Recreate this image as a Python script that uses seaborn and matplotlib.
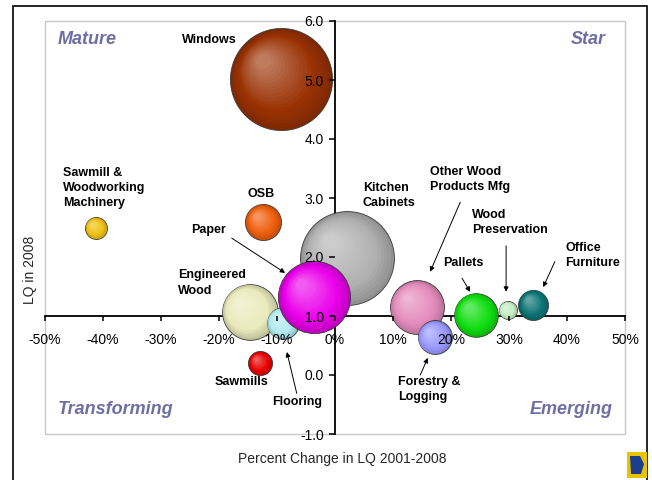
import numpy as np
import pandas as pd
import matplotlib.pyplot as plt
import seaborn as sns
from matplotlib.colors import to_rgb
from matplotlib.patches import Rectangle, Polygon
from matplotlib.transforms import ScaledTranslation

# datos (orden = orden de dibujo)
industries = ["Windows", "Kitchen Cabinets", "Engineered Wood", "Flooring", "Paper", "OSB",
              "Sawmill & Woodworking Machinery", "Sawmills", "Other Wood Products Mfg",
              "Forestry & Logging", "Pallets", "Wood Preservation", "Office Furniture"]
pct_change = [-9.3, 2.1, -14.7, -9.0, -3.6, -12.4, -41.2, -12.9, 14.1, 17.2, 24.3, 29.8, 34.2]
lq_2008 = [5.02, 1.98, 1.07, 0.88, 1.32, 2.59, 2.49, 0.20, 1.15, 0.64, 1.02, 1.10, 1.19]
employment = [10400, 8800, 3100, 1000, 5200, 1300, 480, 580, 2900, 1150, 1900, 320, 900]
colors = ["#9a3204", "#b0b0b0", "#eaeabc", "#b0eaf0", "#ea00ea", "#ee5e0c", "#eec010",
          "#e80000", "#e48cbc", "#9a9aff", "#10de10", "#c4eec4", "#0c7474"]

x_ticks = [-50, -40, -30, -20, -10, 0, 10, 20, 30, 40, 50]
y_ticks = [-1, 0, 1, 2, 3, 4, 5, 6]

# etiquetas: (texto, posicion, alineacion)
labels = [
    ("Windows", (-21.6, 5.68), "center"),
    ("Sawmill &\nWoodworking\nMachinery", (-46.9, 3.17), "left"),
    ("OSB", (-12.8, 3.07), "center"),
    ("Kitchen\nCabinets", (4.8, 3.04), "left"),
    ("Other Wood\nProducts Mfg", (16.4, 3.32), "left"),
    ("Wood\nPreservation", (23.6, 2.58), "left"),
    ("Office\nFurniture", (39.7, 2.02), "left"),
    ("Pallets", (18.6, 1.90), "left"),
    ("Paper", (-24.8, 2.46), "left"),
    ("Engineered\nWood", (-27.1, 1.56), "left"),
    ("Sawmills", (-16.2, -0.12), "center"),
    ("Flooring", (-6.6, -0.46), "center"),
    ("Forestry &\nLogging", (10.9, -0.25), "left"),
]
# flechas: (desde, hasta)
arrows = [
    ((-17.8, 2.32), (-8.6, 1.73)),
    ((-6.6, -0.31), (-8.3, 0.39)),
    ((21.6, 2.93), (16.4, 1.75)),
    ((21.9, 1.64), (23.3, 1.41)),
    ((29.5, 2.19), (29.5, 1.41)),
    ((37.9, 1.92), (35.9, 1.49)),
    ((14.7, 0.0), (16.0, 0.29)),
]
quadrants = [("Mature", (-47.8, 5.68), "left"), ("Star", (46.7, 5.68), "right"),
             ("Transforming", (-47.8, -0.59), "left"), ("Emerging", (47.8, -0.59), "right")]

df = pd.DataFrame({"Industry": industries, "Change": pct_change,
                   "LQ": lq_2008, "Employment": employment})

sns.set_theme(style="white")
plt.rcParams["font.family"] = ["Liberation Sans", "DejaVu Sans"]

SMAX = 5400
EMAX = max(employment)

fig = plt.figure(figsize=(6.52, 4.8), dpi=100)
ax = fig.add_axes([45 / 652, 1 - 434 / 480, 580 / 652, 413 / 480])


def mix(c, t):
    c = np.array(to_rgb(c))
    if t >= 0:
        return tuple(c + (1 - c) * t)
    return tuple(c * (1 + t))


n_layers = 18
for i, row in df.iterrows():
    base = colors[i]
    z = 1 + i
    sns.scatterplot(data=df.iloc[[i]], x="Change", y="LQ", size="Employment",
                    sizes=(0, SMAX), size_norm=(0, EMAX), color=mix(base, -0.18),
                    edgecolor="#3a3a3a", linewidth=0.6, legend=False, ax=ax, zorder=z)
    # sombreado tipo burbuja 3D
    s = SMAX * row["Employment"] / EMAX
    r_pt = np.sqrt(s) / 2
    for k in range(1, n_layers):
        t = 1 - k / n_layers * 0.9
        off = (1 - t) * 0.42 * r_pt / 72
        tr = ax.transData + ScaledTranslation(-off, off, fig.dpi_scale_trans)
        amt = -0.18 + (1 - t) ** 0.9 * 0.62
        ax.scatter([row["Change"]], [row["LQ"]], s=s * t * t, color=mix(base, amt),
                   linewidth=0, transform=tr, zorder=z + k / (n_layers + 1))

ax.set_xlim(-50, 50)
ax.set_ylim(-1, 6)
ax.set_xticks(x_ticks)
ax.set_xticklabels([f"{v}%" for v in x_ticks])
ax.set_yticks(y_ticks)
ax.set_yticklabels([f"{v:.1f}" for v in y_ticks])
ax.set_xlabel("")
ax.set_ylabel("")

for side in ["top", "right"]:
    ax.spines[side].set_visible(False)
ax.spines["left"].set_position(("data", 0))
ax.spines["bottom"].set_position(("data", 1))
for side in ["left", "bottom"]:
    ax.spines[side].set_color("black")
    ax.spines[side].set_linewidth(1.3)
    ax.spines[side].set_zorder(0.6)
ax.tick_params(axis="x", direction="out", length=3.5, width=1.1, pad=9,
               labelsize=10, color="black", labelcolor="black", bottom=True)
ax.tick_params(axis="y", direction="out", length=4, width=1.1, pad=4,
               labelsize=10, color="black", labelcolor="black", left=True)
ax.xaxis.set_zorder(100)
ax.yaxis.set_zorder(100)
ax.add_patch(Rectangle((0, 0), 1, 1, transform=ax.transAxes, fill=False,
                       edgecolor="#c8c8c8", linewidth=1.0, zorder=0.4, clip_on=False))

for txt, pos, ha in labels:
    ax.text(pos[0], pos[1], txt, ha=ha, va="center", fontsize=9, fontweight="bold",
            linespacing=1.35, color="black", zorder=60)
for tail, head in arrows:
    ax.annotate("", xy=head, xytext=tail,
                arrowprops=dict(arrowstyle="-|>", color="black", lw=0.7,
                                mutation_scale=7, shrinkA=0, shrinkB=0), zorder=60)
for txt, pos, ha in quadrants:
    ax.text(pos[0], pos[1], txt, ha=ha, va="center", fontsize=13, fontweight="bold",
            fontstyle="italic", color="#6e6ea4", zorder=60)

fig.text(30 / 652, 1 - 270 / 480, "LQ in 2008", rotation=90, ha="center", va="center",
         fontsize=10)
fig.text(342 / 652, 1 - 459 / 480, "Percent Change in LQ 2001-2008", ha="center",
         va="center", fontsize=10)

# marco exterior
fig.patches.append(Rectangle((13 / 652, -0.05), 634 / 652, 1.05 - 5.5 / 480,
                             transform=fig.transFigure, fill=False, edgecolor="black",
                             linewidth=1.2))
# logo
fig.patches.append(Rectangle((627 / 652, 1 - 478 / 480), 20 / 652, 26 / 480,
                             transform=fig.transFigure, facecolor="#e8c400",
                             edgecolor="none"))
fig.patches.append(Polygon([(630 / 652, 1 - 456 / 480), (640 / 652, 1 - 456 / 480),
                            (644 / 652, 1 - 464 / 480), (641 / 652, 1 - 474 / 480),
                            (631 / 652, 1 - 474 / 480)], closed=True,
                           transform=fig.transFigure, facecolor="#1c3c8c",
                           edgecolor="none"))

fig.savefig("out.png", dpi=100)
